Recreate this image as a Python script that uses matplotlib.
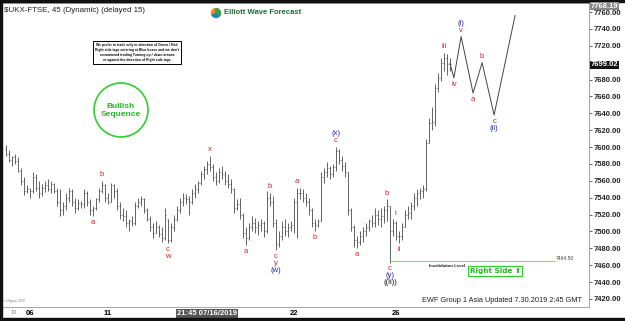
import matplotlib
matplotlib.use('Agg')
import matplotlib.pyplot as plt
from matplotlib.patches import Rectangle, Ellipse, Wedge
import numpy as np

plt.rcParams['font.family'] = ['Liberation Sans', 'DejaVu Sans']

# 45 min bars (high, low, close)
highs = [7603, 7596, 7590, 7592, 7588, 7575, 7565, 7555, 7552, 7570,
         7568, 7560, 7556, 7560, 7562, 7560, 7558, 7552, 7550, 7535,
         7545, 7552, 7550, 7540, 7538, 7536, 7550, 7548, 7538, 7530,
         7540, 7552, 7560, 7556, 7545, 7558, 7556, 7552, 7535, 7528,
         7525, 7515, 7518, 7535, 7540, 7542, 7540, 7528, 7518, 7510,
         7512, 7508, 7505, 7528, 7515, 7510, 7520, 7530, 7540, 7545,
         7544, 7542, 7550, 7556, 7560, 7572, 7578, 7584, 7590, 7580,
         7570, 7575, 7578, 7572, 7568, 7562, 7552, 7538, 7540, 7522,
         7505, 7510, 7518, 7516, 7512, 7515, 7512, 7548, 7546, 7542,
         7515, 7500, 7512, 7515, 7510, 7512, 7540, 7552, 7552, 7550,
         7545, 7540, 7528, 7515, 7515, 7570, 7575, 7582, 7578, 7580,
         7600, 7598, 7590, 7582, 7570, 7528, 7508, 7495, 7500, 7505,
         7510, 7515, 7520, 7528, 7525, 7528, 7530, 7538, 7530, 7515,
         7512, 7500, 7510, 7525, 7530, 7535, 7545, 7550, 7552, 7555,
         7610, 7635, 7648, 7675, 7688, 7706, 7712, 7710, 7705]
lows = [7590, 7582, 7578, 7580, 7570, 7555, 7543, 7545, 7540, 7545,
        7548, 7540, 7542, 7547, 7548, 7545, 7546, 7530, 7518, 7520,
        7525, 7535, 7530, 7522, 7525, 7528, 7528, 7530, 7520, 7518,
        7525, 7535, 7545, 7535, 7532, 7535, 7540, 7525, 7515, 7512,
        7505, 7500, 7506, 7508, 7528, 7530, 7522, 7512, 7500, 7492,
        7498, 7494, 7488, 7490, 7486, 7487, 7500, 7512, 7522, 7530,
        7532, 7520, 7532, 7540, 7545, 7555, 7562, 7568, 7572, 7560,
        7555, 7558, 7562, 7555, 7552, 7545, 7522, 7525, 7515, 7492,
        7484, 7490, 7500, 7498, 7496, 7500, 7494, 7498, 7530, 7505,
        7478, 7482, 7490, 7495, 7494, 7500, 7498, 7492, 7538, 7535,
        7530, 7520, 7505, 7500, 7505, 7512, 7558, 7565, 7562, 7564,
        7572, 7580, 7572, 7565, 7520, 7500, 7482, 7480, 7484, 7488,
        7495, 7500, 7505, 7505, 7508, 7505, 7510, 7512, 7463, 7495,
        7490, 7486, 7490, 7505, 7515, 7515, 7525, 7530, 7538, 7540,
        7548, 7605, 7620, 7625, 7665, 7678, 7690, 7685, 7690]
closes = [7592, 7585, 7588, 7583, 7572, 7560, 7548, 7550, 7548, 7565,
          7552, 7545, 7552, 7555, 7550, 7556, 7548, 7535, 7525, 7530,
          7540, 7548, 7535, 7528, 7534, 7532, 7545, 7535, 7525, 7528,
          7538, 7548, 7555, 7540, 7535, 7555, 7548, 7530, 7520, 7518,
          7510, 7512, 7510, 7530, 7535, 7538, 7525, 7515, 7505, 7498,
          7505, 7497, 7492, 7520, 7490, 7505, 7515, 7525, 7535, 7540,
          7538, 7535, 7545, 7550, 7558, 7568, 7574, 7580, 7576, 7565,
          7560, 7570, 7568, 7560, 7556, 7550, 7528, 7532, 7520, 7498,
          7492, 7505, 7510, 7505, 7508, 7510, 7500, 7540, 7535, 7510,
          7485, 7495, 7505, 7500, 7505, 7508, 7535, 7545, 7545, 7540,
          7535, 7525, 7510, 7508, 7512, 7565, 7570, 7575, 7568, 7576,
          7595, 7585, 7578, 7570, 7525, 7505, 7490, 7488, 7495, 7500,
          7505, 7512, 7510, 7520, 7515, 7518, 7525, 7530, 7500, 7510,
          7495, 7495, 7505, 7520, 7522, 7530, 7540, 7545, 7548, 7550,
          7605, 7628, 7630, 7670, 7682, 7700, 7705, 7698, 7699]

# projected path (bar index, price)
proj_x = [148, 149.3, 151.7, 155.7, 158.7, 162.7, 169.7]
proj_p = [7699, 7682, 7731, 7664, 7700, 7638, 7756]

date_pos = [8, 34, 67, 96, 130]
date_labels = ['06', '11', '21:45 07/16/2019', '22', '26']
y_ticks = list(range(7420, 7761, 20))

invalidation = 7464.50
last_price = 7699.02
top_price = 7768.19

RED = '#cc2222'
BLUE = '#22229a'
BLK = '#111111'

# wave labels: (bar, side, [(text, colour), ...] stacked outward)
bar_labels = [
    (29, 'low', [('a', RED)]),
    (32, 'high', [('b', RED)]),
    (54, 'low', [('c', RED), ('w', RED)]),
    (68, 'high', [('x', RED)]),
    (80, 'low', [('a', RED)]),
    (88, 'high', [('b', RED)]),
    (90, 'low', [('c', RED), ('y', RED), ('(w)', BLUE)]),
    (97, 'high', [('a', RED)]),
    (103, 'low', [('b', RED)]),
    (110, 'high', [('c', RED), ('(x)', BLUE)]),
    (117, 'low', [('a', RED)]),
    (127, 'high', [('b', RED)]),
    (128, 'low', [('c', RED), ('(y)', BLUE), ('((ii))', BLK)]),
    (131, 'low', [('ii', RED)]),
    (146, 'high', [('iii', RED)]),
]
proj_labels = [
    (1, 'low', [('iv', RED)]),
    (2, 'high', [('v', RED), ('(i)', BLUE)]),
    (3, 'low', [('a', RED)]),
    (4, 'high', [('b', RED)]),
    (5, 'low', [('c', RED), ('(ii)', BLUE)]),
]

W, H = 625, 321
fig = plt.figure(figsize=(W / 100, H / 100), dpi=100)
fig.patch.set_facecolor('white')
ax = fig.add_axes([2 / W, (H - 307) / H, 587 / W, 304 / H])

x = np.arange(len(highs))
opens = np.clip([7598] + closes[:-1], lows, highs)
ax.vlines(x, lows, highs, color='#4a4a4a', lw=0.6)
ax.hlines(opens, x - 0.45, x, color='#4a4a4a', lw=0.5)
ax.hlines(closes, x, x + 0.45, color='#4a4a4a', lw=0.5)

ax.plot(proj_x, proj_p, color='#444444', lw=0.7)

ax.hlines(invalidation, 128, 183, color='#88dd88', lw=0.9)
ax.text(183.3, invalidation + 1, '%.2f' % invalidation, fontsize=3.6,
        color='#444444', va='bottom', ha='left')
ax.text(147, invalidation - 3, 'Invalidation Level', fontsize=3.2,
        color='#222222', va='top', ha='center', fontweight='bold')
ax.text(163, invalidation - 11, 'Right Side \u2b06', fontsize=5.2, color='#22bb22',
        fontweight='bold', ha='center', va='center',
        family=['DejaVu Sans'],
        bbox=dict(boxstyle='square,pad=0.25', fc='white', ec='#33cc33', lw=0.9))


def put(xb, yv, side, items):
    for k, (t, c) in enumerate(items):
        off = 4.5 + 5.0 * k
        if side == 'low':
            off = -off
        ax.annotate(t, (xb, yv), xytext=(0, off), textcoords='offset points',
                    ha='center', va='center', fontsize=5.5, color=c)


for b, side, items in bar_labels:
    put(b, lows[b] if side == 'low' else highs[b], side, items)
ax.annotate('i', (129, highs[129]), xytext=(1.5, 4), textcoords='offset points',
            ha='center', va='center', fontsize=5.5, color=RED)
for i, side, items in proj_labels:
    put(proj_x[i], proj_p[i], side, items)

ax.set_xlim(-4 / 3, 583 / 3)
ax.set_ylim(7410.5, 7770.7)
ax.yaxis.tick_right()
ax.set_yticks(y_ticks)
# the 7700 label sits under the last-price flag
ax.set_yticklabels(['' if v == 7700 else '%.2f' % v for v in y_ticks])
ax.tick_params(axis='y', length=2, pad=1, labelsize=5.5, colors='#222222', width=0.5)
ax.set_xticks(date_pos)
ax.set_xticklabels(date_labels)
ax.tick_params(axis='x', length=0, pad=2.5, labelsize=5.5)
for lab in ax.get_yticklabels() + ax.get_xticklabels():
    lab.set_fontweight('bold')
xl = ax.get_xticklabels()[2]
xl.set_color('white')
xl.set_bbox(dict(boxstyle='square,pad=0.15', fc='#555555', ec='none'))
for s in ax.spines.values():
    s.set_color('#999999')
    s.set_linewidth(0.6)

# headings and notes
fig.text(4 / W, 1 - 10 / H, '$UKX-FTSE, 45 (Dynamic) (delayed 15)', fontsize=5.7,
         color='#222222', va='center')
fig.text(224 / W, 1 - 13 / H, 'Elliott Wave Forecast', fontsize=5.5, color='#1e6b3c',
         fontweight='bold', va='center')
r = 4.5
for a0, a1, c in [(90, 210, '#f08a24'), (210, 330, '#2a7fc1'), (330, 450, '#37a048')]:
    fig.add_artist(Wedge((216, H - 13), r, a0, a1, color=c, transform=None))

fig.text(137 / W, 1 - 52.5 / H,
         "We prefer to trade only in direction of Green / Red\n"
         "Right side tags entering at Blue boxes and we don't\n"
         "recommend trading Turning up / down arrows\n"
         "or against the direction of Right side tags.",
         fontsize=2.4, fontweight='bold', ha='center', va='center', linespacing=1.3,
         bbox=dict(boxstyle='square,pad=0.5', fc='white', ec='black', lw=0.7))

fig.add_artist(Ellipse((121 / W, 1 - 110 / H), 54 / W, 54 / H, fill=False,
                       ec='#33cc33', lw=1.2, transform=fig.transFigure))
fig.text(121 / W, 1 - 110 / H, 'Bullish\nSequence', fontsize=6, color='#22bb22',
         fontweight='bold', ha='center', va='center', linespacing=1.2)

fig.text(582 / W, 1 - 300 / H, 'EWF Group 1 Asia Updated 7.30.2019 2:45 GMT',
         fontsize=5.3, color='#222222', ha='right', va='center')
fig.text(3 / W, 1 - 301 / H, '\u00a9 eSignal, 2019', fontsize=2.2, color='#777777',
         va='center')
fig.text(12 / W, 1 - 312 / H, 'D', fontsize=4, color='#555555', va='center')

# price flags on axis
fig.text(591 / W, 1 - 6 / H, '%.2f' % top_price, fontsize=5.5, color='white',
         fontweight='bold', va='center',
         bbox=dict(boxstyle='square,pad=0.1', fc='#888888', ec='none'))
fig.text(591 / W, 1 - 65 / H, '%.2f' % last_price, fontsize=5.5, color='white',
         fontweight='bold', va='center',
         bbox=dict(boxstyle='square,pad=0.1', fc='#111111', ec='none'))

# dark frame
for rx, ry, rw, rh in [(0, H - 2, W, 2), (0, 0, W, 3), (0, 0, 2, H)]:
    fig.add_artist(Rectangle((rx / W, ry / H), rw / W, rh / H, color='#111111',
                             transform=fig.transFigure))

fig.savefig('out.png', dpi=100)
